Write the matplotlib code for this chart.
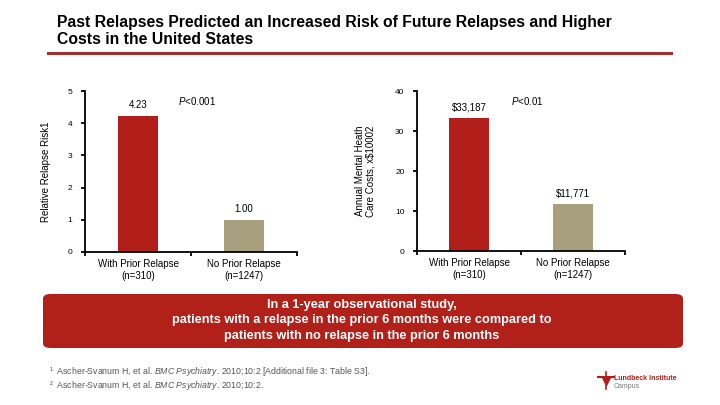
import matplotlib
matplotlib.use("Agg")
import matplotlib.pyplot as plt
from matplotlib.patches import FancyBboxPatch
from matplotlib.lines import Line2D

plt.rcParams['font.family'] = ['Liberation Sans', 'DejaVu Sans']
plt.rcParams['mathtext.fontset'] = 'custom'
plt.rcParams['mathtext.it'] = 'Liberation Sans:italic'
plt.rcParams['mathtext.rm'] = 'Liberation Sans'

# data
groups = ["With Prior Relapse\n(n=310)", "No Prior Relapse\n(n=1247)"]
risk = [4.23, 1.00]
risk_labels = ["4.23", "1.00"]
costs = [33.187, 11.771]   # x $1000
cost_labels = ["$33,187", "$11,771"]
bar_colors = ["#b21e1a", "#a89f7e"]

fig = plt.figure(figsize=(7.2, 4.05), dpi=100)

# title and rule
fig.text(57 / 720, 1 - 31 / 405, "Past Relapses Predicted an Increased Risk of Future Relapses and Higher\nCosts in the United States",
         fontsize=11.3, fontweight="bold", va="center", ha="left", linespacing=1.1, color="black")
fig.add_artist(Line2D([48 / 720, 671 / 720], [1 - 53 / 405] * 2, color="#a0302e", lw=2.2))


def panel(rect, vals, labels, ymax, yticks, ylabel, ptext, pxy):
    ax = fig.add_axes(rect)
    x = [0, 1]
    ax.bar(x, vals, width=0.38, color=bar_colors)
    ax.set_xlim(-0.5, 1.5)
    ax.set_ylim(0, ymax)
    ax.set_yticks(yticks)
    ax.set_xticks([-0.5, 0.5, 1.5])
    ax.set_xticklabels([])
    for s in ["top", "right"]:
        ax.spines[s].set_visible(False)
    for s in ["left", "bottom"]:
        ax.spines[s].set_linewidth(1.3)
    ax.tick_params(axis="both", length=3, width=1.3, labelsize=6)
    ax.tick_params(axis="y", pad=6)
    for xi, v, lab in zip(x, vals, labels):
        ax.text(xi, v + ymax * 0.035, lab, ha="center", va="bottom", fontsize=7)
    for xi, g in zip(x, groups):
        ax.text(xi, -ymax * 0.045, g, ha="center", va="top", fontsize=7, linespacing=1.2)
    ax.text(pxy[0], pxy[1], ptext, ha="left", va="center", fontsize=7)
    ax.set_ylabel(ylabel, fontsize=7, labelpad=14, linespacing=1.1)
    return ax


ax1 = panel([85 / 720, 1 - 252 / 405, 212 / 720, 161 / 405], risk, risk_labels, 5, range(6),
            "Relative Relapse Risk1", r"$\it{P}$<0.001", (0.38, 4.68))
ax2 = panel([417 / 720, 1 - 251 / 405, 208 / 720, 160 / 405], costs, cost_labels, 40, range(0, 41, 10),
            "Annual Mental Heath\nCare Costs, x$10002", r"$\it{P}$<0.01", (0.4, 37.4))
ax1.yaxis.set_label_coords(-0.16, 0.5)
ax2.yaxis.set_label_coords(-0.2, 0.5)

# banner
banner = FancyBboxPatch((43 / 720, 1 - 348 / 405), 640 / 720, 54 / 405,
                        boxstyle="round,pad=0,rounding_size=0.011", transform=fig.transFigure,
                        facecolor="#b2201a", edgecolor="none")
fig.add_artist(banner)
fig.text(362 / 720, 1 - 320.5 / 405,
         "In a 1-year observational study,\npatients with a relapse in the prior 6 months were compared to\npatients with no relapse in the prior 6 months",
         ha="center", va="center", color="white", fontsize=9.2, fontweight="bold", linespacing=1.38)

# footnotes
fig.text(49 / 720, 1 - 372 / 405, "¹  Ascher-Svanum H, et al. $\\it{BMC\\ Psychiatry}$. 2010;10:2 [Additional file 3: Table S3].",
         fontsize=6.3, color="#555555", va="center")
fig.text(49 / 720, 1 - 385 / 405, "²  Ascher-Svanum H, et al. $\\it{BMC\\ Psychiatry}$. 2010;10:2.",
         fontsize=6.3, color="#555555", va="center")

# logo
fig.add_artist(Line2D([606 / 720], [1 - 381 / 405], marker="v", color="#b01f1a", markersize=6))
fig.add_artist(Line2D([598 / 720, 614 / 720], [1 - 377 / 405] * 2, color="#b01f1a", lw=1.5))
fig.add_artist(Line2D([606 / 720] * 2, [1 - 372 / 405, 1 - 389 / 405], color="#b01f1a", lw=1.2))
fig.text(614 / 720, 1 - 378 / 405, "Lundbeck Institute", fontsize=5, color="#b01f1a", fontweight="bold", va="center")
fig.text(614 / 720, 1 - 387 / 405, "Campus", fontsize=5, color="#777777", va="center")

fig.savefig("out.png", dpi=100)
